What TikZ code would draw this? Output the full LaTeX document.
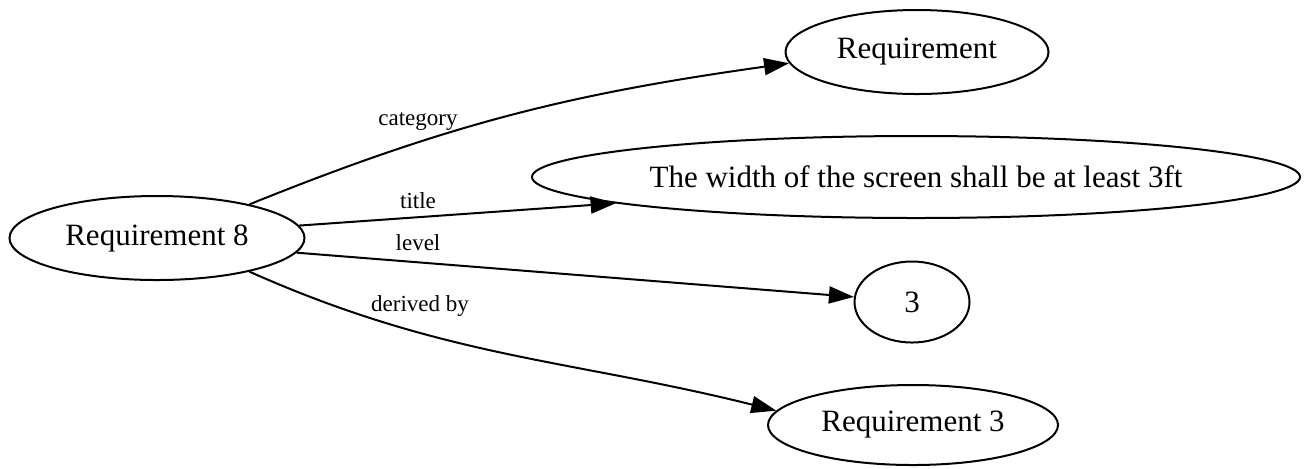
\documentclass[tikz,border=0pt]{standalone}
\usepackage{fontspec}
\setmainfont{Liberation Serif}
\usetikzlibrary{shapes.geometric,arrows.meta}

\begin{document}
\begin{tikzpicture}[x=0.5pt,y=0.5pt,
    value/.style={draw, ellipse, line width=1pt, inner sep=0pt, font=\fontsize{15.5}{18}\selectfont},
    link/.style={line width=1pt, -{Triangle[length=12.5pt,width=8.5pt]}},
    linklabel/.style={font=\fontsize{11.5}{13}\selectfont, inner sep=0pt}]
    \useasboundingbox (0,0) rectangle (1310,-468);
    \node[value, minimum width=147.5pt, minimum height=42pt] (req8) at (157,-238) {Requirement 8};
    \node[value, minimum width=131.5pt, minimum height=42pt] (category) at (917,-52) {Requirement};
    \node[value, minimum width=384pt, minimum height=41pt] (title) at (916,-177) {The width of the screen shall be at least 3ft};
    \node[value, minimum width=57.5pt, minimum height=40.5pt] (level) at (912,-302) {3};
    \node[value, minimum width=145pt, minimum height=40pt] (req3) at (913,-425) {Requirement 3};
    \draw[link] (req8.20) to[out=22,in=188] (category.185);
    \draw[link] (req8.5) -- (title.185);
    \draw[link] (req8.-6) -- (level.175);
    \draw[link] (req8.-20) to[out=-24,in=166] (req3.174);
    \node[linklabel] (lcategory) at (418,-121) {category};
    \node[linklabel] (ltitle) at (418,-201) {title};
    \node[linklabel] (llevel) at (418,-243) {level};
    \node[linklabel] (lderived) at (420,-306) {derived by};
\end{tikzpicture}
\end{document}
